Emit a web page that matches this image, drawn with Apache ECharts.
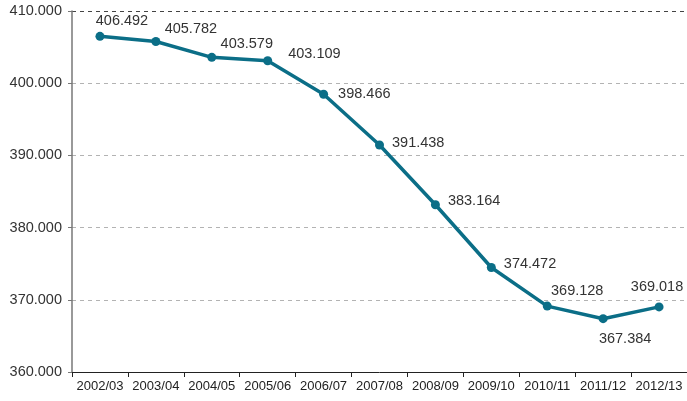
<!DOCTYPE html>
<html>
<head>
<meta charset="utf-8">
<script src="https://cdn.jsdelivr.net/npm/echarts@6/dist/echarts.min.js"></script>
<style>
  html, body { margin: 0; padding: 0; background: #fff; }
  #chart { width: 687px; height: 401px; }
</style>
</head>
<body>
<div id="chart"></div>
<script>
// School years and pupil counts (thousands)
const years = ['2002/03', '2003/04', '2004/05', '2005/06', '2006/07', '2007/08', '2008/09', '2009/10', '2010/11', '2011/12', '2012/13'];
const pupils = [406.492, 405.782, 403.579, 403.109, 398.466, 391.438, 383.164, 374.472, 369.128, 367.384, 369.018];
const yTicks = [360, 370, 380, 390, 400, 410];

// Where each value label sits around its point: [position, dx, dy]
const labelPlacement = [
  ['top', 22, 2], ['top', 35, 5], ['top', 35, 4], ['right', 11, -7],
  ['right', 5, 0], ['right', 3, -2], ['right', 3, -4], ['right', 3, -4],
  ['top', 30, 2], ['bottom', 22, 3], ['top', -2, -3]
];

const fmt = v => v.toFixed(3);
const font = 'Liberation Sans, Arial, Helvetica, sans-serif';

const chart = echarts.init(document.getElementById('chart'), null, { renderer: 'canvas' });
chart.setOption({
  animation: false,
  grid: { left: 72, right: 0, top: 11, bottom: 29, containLabel: false },
  xAxis: {
    type: 'category',
    data: years,
    boundaryGap: true,
    axisLine: { lineStyle: { color: '#222', width: 1 } },
    axisTick: { show: true, interval: 0, length: 5, lineStyle: { color: '#222' } },
    axisLabel: { interval: 0, color: '#222', fontSize: 13, fontFamily: font, margin: 8 }
  },
  yAxis: {
    type: 'value',
    min: yTicks[0],
    max: yTicks[yTicks.length - 1],
    interval: 10,
    axisLine: { show: true, lineStyle: { color: '#777', width: 1.5 } },
    axisTick: { show: true, length: 4, lineStyle: { color: '#777' } },
    axisLabel: { color: '#333', fontSize: 14.5, fontFamily: font, margin: 10, formatter: fmt },
    splitLine: {
      show: true,
      lineStyle: {
        type: [4, 4],
        color: yTicks.map((t, i) => (i === yTicks.length - 1 ? '#444' : (i === 0 ? 'transparent' : '#b3b3b3')))
      }
    }
  },
  series: [{
    type: 'line',
    data: pupils.map((v, i) => ({
      value: v,
      label: {
        position: labelPlacement[i][0],
        offset: [labelPlacement[i][1], labelPlacement[i][2]]
      }
    })),
    symbol: 'circle',
    symbolSize: 9,
    lineStyle: { color: '#0b6e87', width: 3.5 },
    itemStyle: { color: '#0b6e87' },
    label: {
      show: true,
      color: '#333',
      fontSize: 14.5,
      fontFamily: font,
      distance: 5,
      formatter: p => fmt(p.value)
    }
  }]
});
</script>
</body>
</html>
